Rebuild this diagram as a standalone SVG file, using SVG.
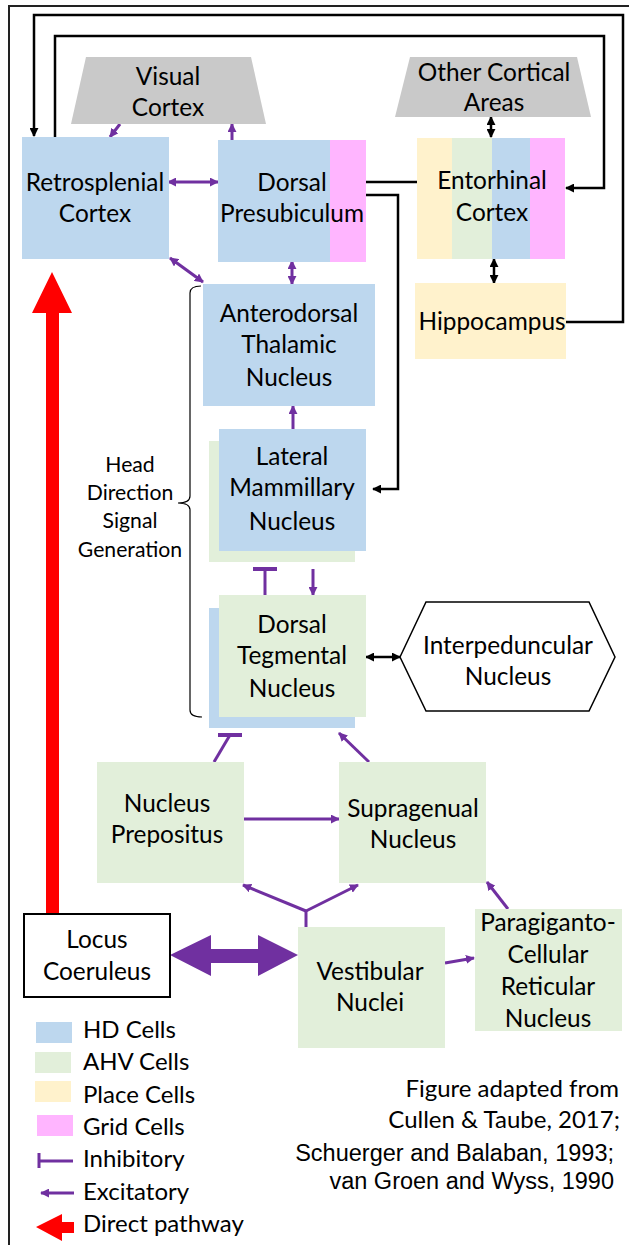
<svg xmlns="http://www.w3.org/2000/svg" width="629" height="1245" viewBox="0 0 629 1245">
<style>
.t{font-family:Lato,"Open Sans",sans-serif;font-size:24.4px;fill:#000;text-anchor:middle}
.s{font-size:21.2px}
.l{font-family:Lato,"Open Sans",sans-serif;font-size:24px;fill:#000}
.c{font-family:Lato,"Open Sans",sans-serif;font-size:24px;fill:#000;text-anchor:end}
.a{font-family:"Liberation Sans",Arial,sans-serif;font-size:23.5px;fill:#000;text-anchor:end}
.hd{fill:#BDD7EE}.ahv{fill:#E2EFDA}.pl{fill:#FFF2CC}.gr{fill:#FFB5FF}.gy{fill:#C9C9C9}
.p{stroke:#7030A0;stroke-width:3;fill:none}
.b{stroke:#000;stroke-width:2.5;fill:none}
</style>
<defs>
<marker id="ap" viewBox="0 0 10 10" refX="9" refY="5" markerWidth="9" markerHeight="9" markerUnits="userSpaceOnUse" orient="auto-start-reverse"><path d="M0,0 L10,5 L0,10 z" fill="#7030A0"/></marker>
<marker id="ab" viewBox="0 0 10 10" refX="9" refY="5" markerWidth="9" markerHeight="9" markerUnits="userSpaceOnUse" orient="auto-start-reverse"><path d="M0,0 L10,5 L0,10 z" fill="#000"/></marker>
<marker id="tb" viewBox="0 0 24 4" refX="12" refY="2" markerWidth="24" markerHeight="4" markerUnits="userSpaceOnUse" orient="0"><rect x="0" y="0" width="24" height="4" fill="#7030A0"/></marker>
</defs>
<rect width="629" height="1245" fill="#fff"/>
<path d="M9,1245 V6 H629" stroke="#222" stroke-width="2" fill="none"/>

<g id="connectors">
<path class="b" d="M566,322 H623 V15 H34 V136" marker-end="url(#ab)"/>
<path class="b" d="M55,137 V36 H604 V188 H566" marker-end="url(#ab)"/>
<path class="b" d="M366,182 H417"/>
<path class="b" d="M366,195 H398 V489 H373" marker-end="url(#ab)"/>
<path class="b" d="M491,117 V137" marker-start="url(#ab)" marker-end="url(#ab)" stroke-width="2"/>
<path class="b" d="M494,259 V283" marker-start="url(#ab)" marker-end="url(#ab)" stroke-width="2"/>
<path class="b" d="M366,657 H400" marker-start="url(#ab)" marker-end="url(#ab)" stroke-width="2"/>

<path class="p" d="M120,124 L110,137" marker-end="url(#ap)"/>
<path class="p" d="M232,140 V124" marker-end="url(#ap)"/>
<path class="p" d="M168,182 H218" marker-start="url(#ap)" marker-end="url(#ap)"/>
<path class="p" d="M170,258 L203,282" marker-start="url(#ap)" marker-end="url(#ap)"/>
<path class="p" d="M292,261 V284" marker-start="url(#ap)" marker-end="url(#ap)"/>
<path class="p" d="M293,429 V406" marker-end="url(#ap)"/>
<path class="p" d="M265,596 V569" marker-end="url(#tb)"/>
<path class="p" d="M313,569 V595" marker-end="url(#ap)"/>
<path class="p" d="M214,762 L230,735" marker-end="url(#tb)"/>
<path class="p" d="M369,762 L339,733" marker-end="url(#ap)"/>
<path class="p" d="M244,819 H339" marker-end="url(#ap)"/>
<path class="p" d="M306,927 V911"/>
<path class="p" d="M306,911 L243,885" marker-end="url(#ap)"/>
<path class="p" d="M306,911 L358,885" marker-end="url(#ap)"/>
<path class="p" d="M445,963 L474,958" marker-end="url(#ap)"/>
<path class="p" d="M508,909 L487,882" marker-end="url(#ap)"/>
<polygon points="170,955 211,935 211,949 258,949 258,935 298,955 258,976 258,963 211,963 211,976" fill="#7030A0"/>
<polygon points="52,272 72,313 59,313 59,914 46,914 46,313 32,313" fill="#FF0000"/>
</g>

<g id="visual-cortex">
<polygon class="gy" points="86,57 251,57 266,124 71,124"/>
<text class="t" x="168" y="85">Visual</text>
<text class="t" x="168" y="116">Cortex</text>
</g>
<g id="other-cortical-areas">
<polygon class="gy" points="410,57 577,57 591,117 395,117"/>
<text class="t" x="494" y="81">Other Cortical</text>
<text class="t" x="494" y="111">Areas</text>
</g>
<g id="retrosplenial-cortex">
<rect class="hd" x="22" y="137" width="147" height="122"/>
<text class="t" x="95" y="191">Retrosplenial</text>
<text class="t" x="95" y="222">Cortex</text>
</g>
<g id="dorsal-presubiculum">
<rect class="hd" x="218" y="140" width="112" height="122"/>
<rect class="gr" x="330" y="140" width="36" height="122"/>
<text class="t" x="292" y="191">Dorsal</text>
<text class="t" x="292" y="222">Presubiculum</text>
</g>
<g id="entorhinal-cortex">
<rect class="pl" x="417" y="138" width="35" height="121"/>
<rect class="ahv" x="452" y="138" width="40" height="121"/>
<rect class="hd" x="492" y="138" width="38" height="121"/>
<rect class="gr" x="530" y="138" width="35" height="121"/>
<text class="t" x="492" y="189">Entorhinal</text>
<text class="t" x="492" y="221">Cortex</text>
</g>
<g id="hippocampus">
<rect class="pl" x="415" y="283" width="151" height="76"/>
<text class="t" x="492" y="330">Hippocampus</text>
</g>
<g id="anterodorsal-thalamic-nucleus">
<rect class="hd" x="203" y="284" width="172" height="122"/>
<text class="t" x="289" y="322">Anterodorsal</text>
<text class="t" x="289" y="353">Thalamic</text>
<text class="t" x="289" y="386">Nucleus</text>
</g>
<g id="lateral-mammillary-nucleus">
<rect class="ahv" x="209" y="441" width="146" height="121"/>
<rect class="hd" x="219" y="429" width="147" height="122"/>
<text class="t" x="292" y="465">Lateral</text>
<text class="t" x="292" y="496">Mammillary</text>
<text class="t" x="292" y="530">Nucleus</text>
</g>
<g id="hd-signal-generation">
<path d="M201,286 Q190,286 190,293 V496 Q190,503 178,503 Q190,503 190,510 V710 Q190,717 202,717" stroke="#000" stroke-width="1.2" fill="none"/>
<text class="t s" x="130" y="472">Head</text>
<text class="t s" x="130" y="500">Direction</text>
<text class="t s" x="130" y="528">Signal</text>
<text class="t s" x="130" y="557">Generation</text>
</g>
<g id="dorsal-tegmental-nucleus">
<rect class="hd" x="209" y="608" width="146" height="120"/>
<rect class="ahv" x="219" y="595" width="147" height="122"/>
<text class="t" x="292" y="633">Dorsal</text>
<text class="t" x="292" y="664">Tegmental</text>
<text class="t" x="292" y="697">Nucleus</text>
</g>
<g id="interpeduncular-nucleus">
<polygon points="400,657 426,602 589,602 615,657 589,711 426,711" fill="#fff" stroke="#000" stroke-width="1.5"/>
<text class="t" x="508" y="654">Interpeduncular</text>
<text class="t" x="508" y="685">Nucleus</text>
</g>
<g id="nucleus-prepositus">
<rect class="ahv" x="97" y="762" width="147" height="121"/>
<text class="t" x="167" y="812">Nucleus</text>
<text class="t" x="167" y="843">Prepositus</text>
</g>
<g id="supragenual-nucleus">
<rect class="ahv" x="339" y="762" width="147" height="121"/>
<text class="t" x="413" y="817">Supragenual</text>
<text class="t" x="413" y="848">Nucleus</text>
</g>
<g id="locus-coeruleus">
<rect x="24" y="914" width="146" height="83" fill="#fff" stroke="#000" stroke-width="2"/>
<text class="t" x="97" y="948">Locus</text>
<text class="t" x="97" y="980">Coeruleus</text>
</g>
<g id="vestibular-nuclei">
<rect class="ahv" x="298" y="927" width="147" height="121"/>
<text class="t" x="370" y="980">Vestibular</text>
<text class="t" x="370" y="1011">Nuclei</text>
</g>
<g id="paragigantocellular-reticular-nucleus">
<rect class="ahv" x="475" y="909" width="147" height="122"/>
<text class="t" x="548" y="931">Paragiganto-</text>
<text class="t" x="548" y="963">Cellular</text>
<text class="t" x="548" y="995">Reticular</text>
<text class="t" x="548" y="1027">Nucleus</text>
</g>
<g id="legend">
<rect class="hd" x="36" y="1022" width="36" height="21"/>
<rect class="ahv" x="35" y="1052" width="36" height="21"/>
<rect class="pl" x="35" y="1081" width="36" height="21"/>
<rect class="gr" x="37" y="1115" width="36" height="21"/>
<path d="M39,1153 V1168 M39,1161 H73" stroke="#7030A0" stroke-width="3" fill="none"/>
<path class="p" d="M74,1193 H41" marker-end="url(#ap)"/>
<polygon points="36,1227 62,1214 62,1222 74,1222 74,1233 62,1233 62,1241" fill="#FF0000"/>
<text class="l" x="83" y="1038">HD Cells</text>
<text class="l" x="83" y="1070">AHV Cells</text>
<text class="l" x="83" y="1103">Place Cells</text>
<text class="l" x="83" y="1135">Grid Cells</text>
<text class="l" x="83" y="1167">Inhibitory</text>
<text class="l" x="83" y="1200">Excitatory</text>
<text class="l" x="83" y="1232">Direct pathway</text>
</g>
<g id="citation">
<text class="c" x="619" y="1097">Figure adapted from</text>
<text class="c" x="620" y="1128">Cullen &amp; Taube, 2017;</text>
<text class="a" x="614" y="1161">Schuerger and Balaban, 1993;</text>
<text class="a" x="614" y="1189">van Groen and Wyss, 1990</text>
</g>
</svg>
